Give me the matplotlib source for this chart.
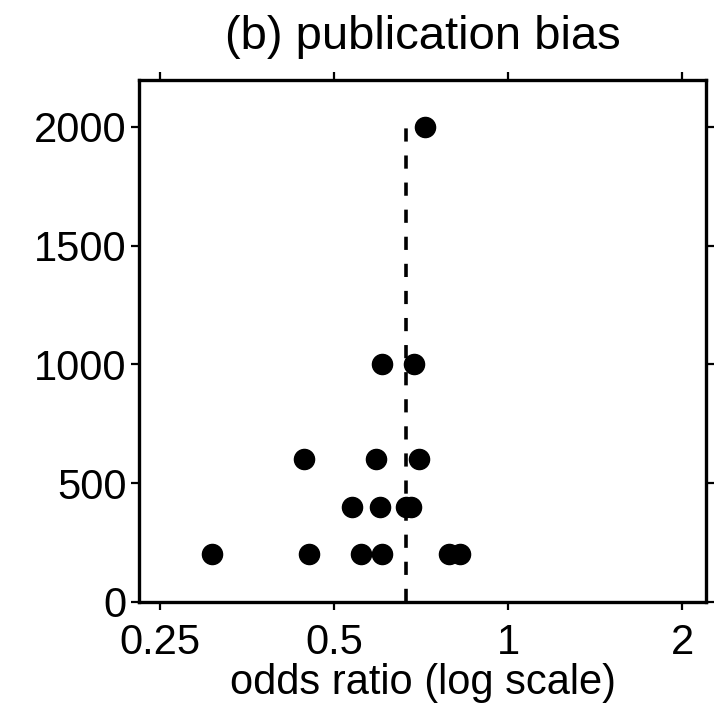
import matplotlib.pyplot as plt

plt.rcParams['font.family'] = ['Liberation Sans', 'DejaVu Sans']
plt.rcParams['lines.scale_dashes'] = False

# Odds ratio of each study and its sample size
odds_ratio = [0.308, 0.452, 0.556, 0.606, 0.791, 0.825,
              0.537, 0.600, 0.665, 0.680,
              0.443, 0.590, 0.700,
              0.606, 0.686,
              0.719]
sample_size = [200, 200, 200, 200, 200, 200,
               400, 400, 400, 400,
               600, 600, 600,
               1000, 1000,
               2000]
pooled_or = 0.667
x_ticks = [0.25, 0.5, 1, 2]
x_tick_labels = ['0.25', '0.5', '1', '2']
y_ticks = [0, 500, 1000, 1500, 2000]


def main():
    fig = plt.figure(figsize=(7.14, 7.04), dpi=100)
    ax = fig.add_axes([0.1947, 0.1449, 0.7943, 0.7415])

    ax.plot([pooled_or, pooled_or], [0, 2000], color='black', lw=2.6,
            dashes=(9.5, 10))
    ax.plot(odds_ratio, sample_size, 'o', color='black', ms=14.5, mec='black')

    ax.set_xscale('log')
    ax.set_xlim(0.2299, 2.20)
    ax.set_ylim(0, 2198)
    ax.set_xticks(x_ticks)
    ax.set_xticklabels(x_tick_labels)
    ax.minorticks_off()
    ax.set_yticks(y_ticks)

    ax.tick_params(axis='both', which='major', direction='out', length=6,
                   width=1.6, labelsize=30, top=True, right=True,
                   labeltop=False, labelright=False, color='black')
    ax.tick_params(axis='x', pad=9)
    ax.tick_params(axis='y', pad=3)
    for spine in ax.spines.values():
        spine.set_linewidth(2.4)

    ax.set_xlabel('odds ratio (log scale)', fontsize=30, labelpad=0)
    ax.set_title('(b) publication bias', fontsize=34, pad=22)

    fig.savefig('out.png', dpi=100)


if __name__ == '__main__':
    main()
